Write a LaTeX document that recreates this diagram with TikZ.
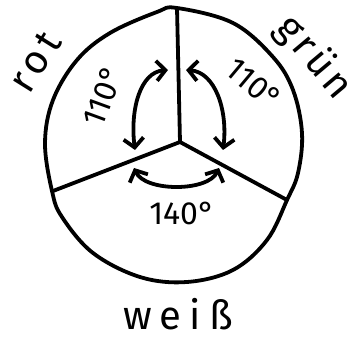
\documentclass[tikz,border=0pt]{standalone}
\usepackage{fontspec}
\setmainfont{Fira Sans}
\usetikzlibrary{arrows.meta}
\tikzset{
  ink/.style={line width=3.8pt, line cap=round, line join=round, black},
  dblarrow/.style={ink, {Straight Barb[length=9pt,width=20pt]}-{Straight Barb[length=9pt,width=20pt]}},
  lbl/.style={inner sep=0pt, font=\fontsize{40}{40}\selectfont\addfontfeature{LetterSpace=14}},
  ang/.style={inner sep=0pt, font=\fontsize{32}{32}\selectfont}
}
\begin{document}
\begin{tikzpicture}[x=1pt,y=-1pt]
\useasboundingbox (0,0) rectangle (361,344);
% outline
\draw[ink] plot[smooth cycle, tension=0.6] coordinates {
 (177,8) (233,23) (273,57) (293,90) (302,133) (298,173) (287,200)
 (267,240) (233,270) (187,282) (140,277) (93,253) (62,217) (52,191)
 (45,143) (53,100) (77,60) (110,33) (157,12)};
% spokes
\coordinate (C) at (180,142);
\coordinate (T) at (177,8);
\coordinate (L) at (53,191);
\coordinate (R) at (287,200);
\draw[ink] (C) -- (T);
\draw[ink] (C) -- (L);
\draw[ink] (C) -- (R);
% angle arrows
\coordinate (a1s) at (168,70);
\coordinate (a1e) at (135,150);
\coordinate (a2s) at (186,70);
\coordinate (a2e) at (223,150);
\coordinate (a3s) at (134,168);
\coordinate (a3e) at (219,168);
\draw[dblarrow] (a1s) .. controls (140,72) and (130,110) .. (a1e);
\draw[dblarrow] (a2s) .. controls (215,72) and (228,110) .. (a2e);
\draw[dblarrow] (a3s) .. controls (145,192) and (208,192) .. (a3e);
% labels
\node[lbl, rotate=58] (rot) at (35,62) {rot};
\node[lbl, rotate=-50, font=\fontsize{40}{40}\selectfont\addfontfeature{LetterSpace=10}] (gruen) at (314,58) {grün};
\node[lbl, font=\fontsize{40}{40}\selectfont\addfontfeature{LetterSpace=20}] (weiss) at (178,314) {weiß};
\node[ang, rotate=70] (w1) at (103,96) {110°};
\node[ang, rotate=-40] (w2) at (254,84) {110°};
\node[ang] (w3) at (182,213) {140°};
\end{tikzpicture}
\end{document}
